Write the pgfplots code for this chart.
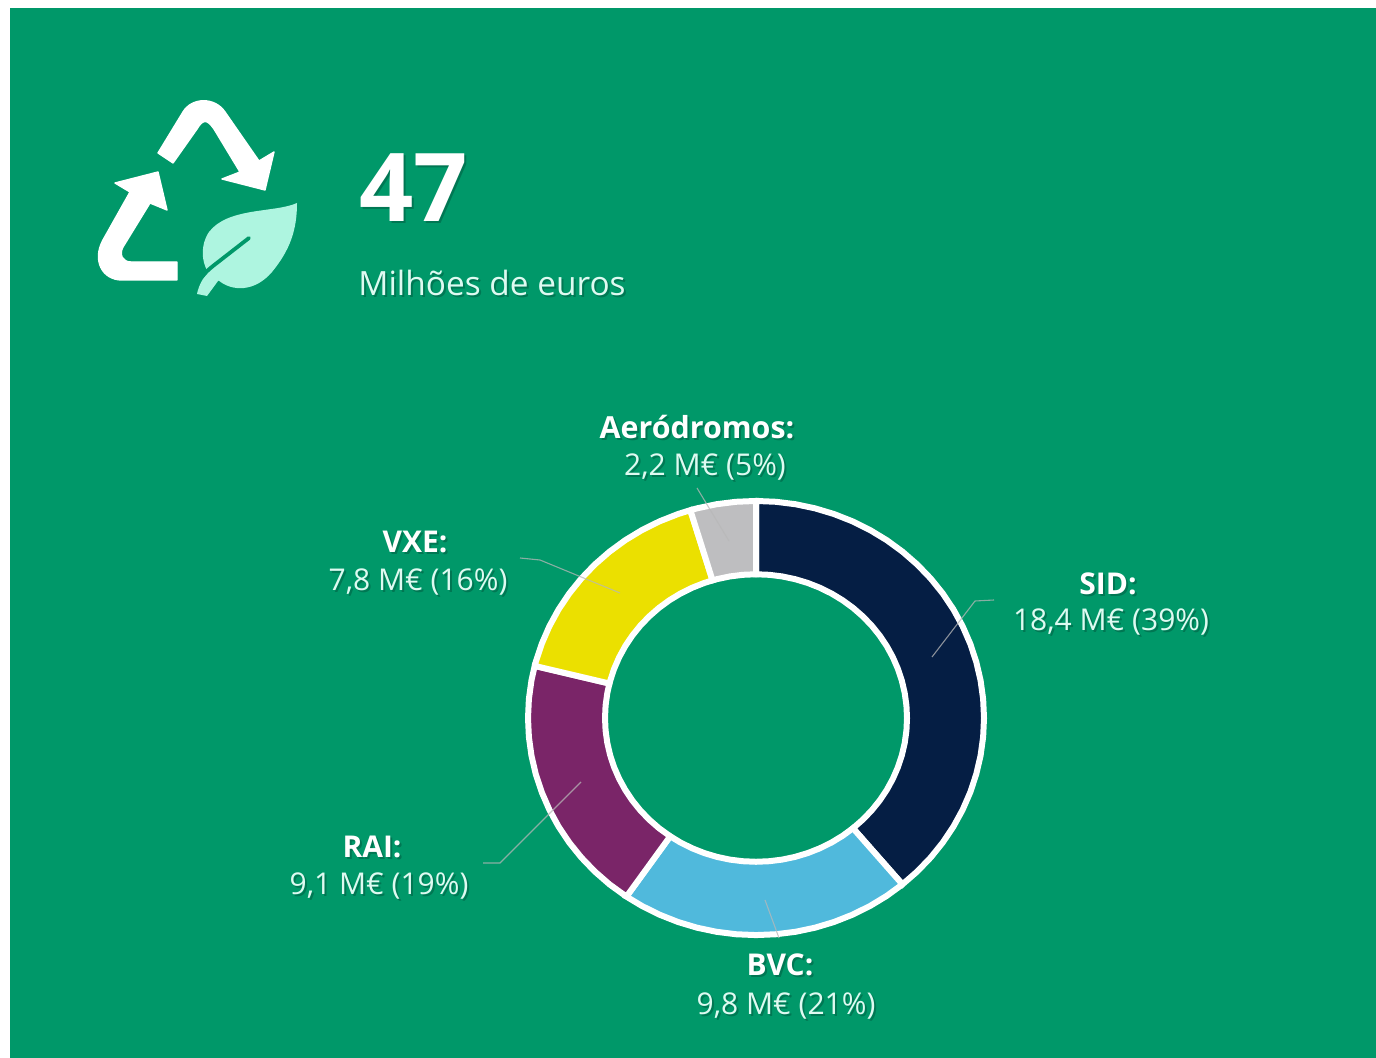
\documentclass[border=0pt]{standalone}
\usepackage{pgfplots}
\pgfplotsset{compat=1.18}
\usepackage{fontspec}
\setmainfont{Open Sans}
\definecolor{bg}{RGB}{0,152,105}
\definecolor{sid}{RGB}{5,30,68}
\definecolor{bvc}{RGB}{80,185,220}
\definecolor{rai}{RGB}{122,37,104}
\definecolor{vxe}{RGB}{235,224,0}
\definecolor{aer}{RGB}{190,190,192}
\definecolor{leaf}{RGB}{174,245,224}
\definecolor{val}{RGB}{222,250,241}
\definecolor{shad}{RGB}{0,70,50}
\pgfplotsset{page/.style={at={(0,0)},anchor=south west,scale only axis,width=688pt,height=529pt,hide axis,clip=false}}
\newcommand{\lab}[5]{% x y size colour text
  \node[text=shad,opacity=.4,inner sep=0pt,font=\fontsize{#3}{#3}\selectfont] at (axis cs:#1+2,#2+2) {#5};
  \node[text=#4,inner sep=0pt,font=\fontsize{#3}{#3}\selectfont] at (axis cs:#1,#2) {#5};}
\begin{document}
\begin{tikzpicture}
\fill[white] (0,0) rectangle (688pt,529pt);
\fill[bg] (5pt,0) rectangle (688pt,525pt);
% donut: polar coordinates (angle, radius); shares 18.4, 9.8, 9.1, 7.8, 2.2 of 47.3
\begin{axis}[page,xmin=-756,xmax=620,ymin=-357.1,ymax=754.2]
\pgfplotsset{ring/.style={data cs=polar,draw=white,line width=3pt,line join=miter}}
\addplot[ring,fill=sid] coordinates {(90,228)(85,228)(80,228)(75,228)(70,228)(65,228)(60,228)(55,228)(50,228)(45,228)(40,228)(35,228)(30,228)(25,228)(20,228)(15,228)(10,228)(5,228)(0,228)(-5,228)(-10,228)(-15,228)(-20,228)(-25,228)(-30,228)(-35,228)(-40,228)(-45,228)(-50.04,228)
(-50.04,151)(-45,151)(-40,151)(-35,151)(-30,151)(-25,151)(-20,151)(-15,151)(-10,151)(-5,151)(0,151)(5,151)(10,151)(15,151)(20,151)(25,151)(30,151)(35,151)(40,151)(45,151)(50,151)(55,151)(60,151)(65,151)(70,151)(75,151)(80,151)(85,151)(90,151)(90,228)};
\addplot[ring,fill=bvc] coordinates {(-50.04,228)(-55,228)(-60,228)(-65,228)(-70,228)(-75,228)(-80,228)(-85,228)(-90,228)(-95,228)(-100,228)(-105,228)(-110,228)(-115,228)(-120,228)(-124.63,228)
(-124.63,151)(-120,151)(-115,151)(-110,151)(-105,151)(-100,151)(-95,151)(-90,151)(-85,151)(-80,151)(-75,151)(-70,151)(-65,151)(-60,151)(-55,151)(-50.04,151)(-50.04,228)};
\addplot[ring,fill=rai] coordinates {(-124.63,228)(-130,228)(-135,228)(-140,228)(-145,228)(-150,228)(-155,228)(-160,228)(-165,228)(-170,228)(-175,228)(-180,228)(-185,228)(-190,228)(-193.89,228)
(-193.89,151)(-190,151)(-185,151)(-180,151)(-175,151)(-170,151)(-165,151)(-160,151)(-155,151)(-150,151)(-145,151)(-140,151)(-135,151)(-130,151)(-124.63,151)(-124.63,228)};
\addplot[ring,fill=vxe] coordinates {(-193.89,228)(-195,228)(-200,228)(-205,228)(-210,228)(-215,228)(-220,228)(-225,228)(-230,228)(-235,228)(-240,228)(-245,228)(-250,228)(-253.26,228)
(-253.26,151)(-250,151)(-245,151)(-240,151)(-235,151)(-230,151)(-225,151)(-220,151)(-215,151)(-210,151)(-205,151)(-200,151)(-195,151)(-193.89,151)(-193.89,228)};
\addplot[ring,fill=aer] coordinates {(-253.26,228)(-255,228)(-260,228)(-265,228)(-270,228)
(-270,151)(-265,151)(-260,151)(-255,151)(-253.26,151)(-253.26,228)};
\end{axis}
% overlay in pixel coordinates
\begin{axis}[page,xmin=0,xmax=1376,ymin=0,ymax=1058,y dir=reverse]
% leader lines
\pgfplotsset{leader/.style={draw=white!72!black,line width=.55pt,opacity=.75}}
\addplot[leader] coordinates {(932,657)(975,601)(994,600)};
\addplot[leader] coordinates {(697,488)(729,541)};
\addplot[leader] coordinates {(520,558)(540,560)(620,593)};
\addplot[leader] coordinates {(483,863)(500,863)(581,782)};
\addplot[leader] coordinates {(765,900)(779,938)};
% recycling icon
\filldraw[white,line width=.7pt,line join=round] (axis cs:158,153) -- (axis cs:183,112) .. controls (axis cs:192,97) and (axis cs:215,97) .. (axis cs:225,112) -- (axis cs:259,161) -- (axis cs:274,152) -- (axis cs:265,190) -- (axis cs:222,179) -- (axis cs:240,172) -- (axis cs:214,129) .. controls (axis cs:207,119) and (axis cs:203,119) .. (axis cs:197,129) -- (axis cs:173,163) -- cycle;
\filldraw[white,line width=.7pt,line join=round] (axis cs:158,172) -- (axis cs:115,183) -- (axis cs:130,192) -- (axis cs:103,240) .. controls (axis cs:92,260) and (axis cs:102,280) .. (axis cs:122,280) -- (axis cs:177,280) -- (axis cs:177,262) -- (axis cs:131,262) .. controls (axis cs:122,262) and (axis cs:119,254) .. (axis cs:123,247) -- (axis cs:150,203) -- (axis cs:167,210) -- cycle;
\fill[leaf] (axis cs:297,203) .. controls (axis cs:275,213) and (axis cs:228,207) .. (axis cs:209,232) .. controls (axis cs:200,245) and (axis cs:202,262) .. (axis cs:207,270) -- (axis cs:218,280) .. controls (axis cs:232,292) and (axis cs:255,292) .. (axis cs:272,272) .. controls (axis cs:290,250) and (axis cs:297,230) .. (axis cs:297,203) -- cycle;
\fill[leaf] (axis cs:197,294) .. controls (axis cs:199,284) and (axis cs:204,276) .. (axis cs:212,268) -- (axis cs:224,278) -- (axis cs:218,281) -- (axis cs:207,296) -- cycle;
\draw[bg,line width=1.9pt,line cap=round] (axis cs:249,238) -- (axis cs:213,266) .. controls (axis cs:208,270) and (axis cs:205,273) .. (axis cs:202,277);
% texts
\lab{413.5}{188}{47.5}{white}{\bfseries 47}
\lab{492}{283}{16.7}{val}{Milhões de euros}
\lab{697}{427}{15.2}{white}{\bfseries Aeródromos:}
\lab{705}{467}{15}{val}{2,2 M€ (5\%)}
\lab{1108}{584}{15}{white}{\bfseries SID:}
\lab{1111}{622}{15}{val}{18,4 M€ (39\%)}
\lab{415}{542}{15}{white}{\bfseries VXE:}
\lab{418}{582}{15}{val}{7,8 M€ (16\%)}
\lab{372}{847}{15}{white}{\bfseries RAI:}
\lab{379}{886}{15}{val}{9,1 M€ (19\%)}
\lab{780}{965}{15}{white}{\bfseries BVC:}
\lab{786}{1006}{15}{val}{9,8 M€ (21\%)}
\end{axis}
\end{tikzpicture}
\end{document}
